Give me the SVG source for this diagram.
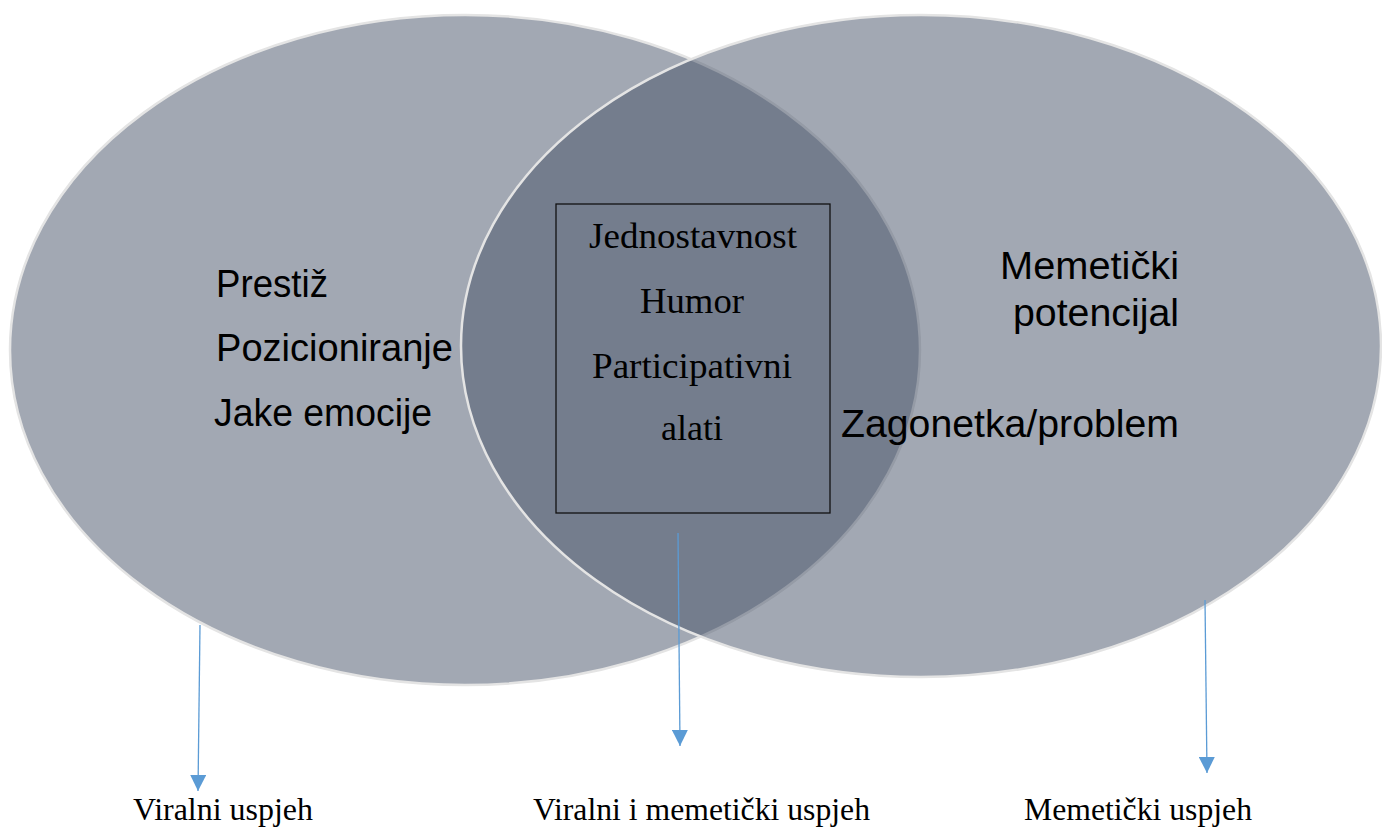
<svg xmlns="http://www.w3.org/2000/svg" width="1382" height="827" viewBox="0 0 1382 827">
<style>
.set{fill:#455167;fill-opacity:0.5;stroke:#e4e4e4;stroke-width:2.5}
.sans{font-family:"Liberation Sans",Arial,sans-serif;font-size:38px;fill:#000}
.serif{font-family:"Liberation Serif","Times New Roman",serif;fill:#000}
.box{fill:none;stroke:#111;stroke-width:1.3}
.conn{stroke:#5b9bd5;stroke-width:1.3;fill:none;marker-end:url(#ah)}
</style>
<defs>
<marker id="ah" markerUnits="userSpaceOnUse" markerWidth="16" markerHeight="16" viewBox="0 0 16 16" refX="16" refY="8" orient="auto">
<path d="M0,0 L16,8 L0,16 Z" fill="#5b9bd5"/>
</marker>
</defs>
<rect width="1382" height="827" fill="#fff"/>
<g id="viral">
<ellipse class="set" cx="465" cy="350" rx="455" ry="335"/>
</g>
<g id="memetic">
<ellipse class="set" cx="921" cy="346" rx="460" ry="331"/>
</g>
<g id="viral-text">
<text class="sans" x="216" y="297" textLength="112" lengthAdjust="spacingAndGlyphs">Prestiž</text>
<text class="sans" x="216" y="361" textLength="237" lengthAdjust="spacingAndGlyphs">Pozicioniranje</text>
<text class="sans" x="214" y="426" textLength="218" lengthAdjust="spacingAndGlyphs">Jake emocije</text>
</g>
<g id="memetic-text">
<text class="sans" x="1179" y="279" text-anchor="end" textLength="179" lengthAdjust="spacingAndGlyphs">Memetički</text>
<text class="sans" x="1179" y="326" text-anchor="end" textLength="166" lengthAdjust="spacingAndGlyphs">potencijal</text>
<text class="sans" x="1179" y="437" text-anchor="end" textLength="338" lengthAdjust="spacingAndGlyphs">Zagonetka/problem</text>
</g>
<g id="shared">
<rect class="box" x="556" y="204" width="274" height="309"/>
<text class="serif" font-size="36" x="693" y="248" text-anchor="middle" textLength="208" lengthAdjust="spacingAndGlyphs">Jednostavnost</text>
<text class="serif" font-size="36" x="692" y="313" text-anchor="middle" textLength="104" lengthAdjust="spacingAndGlyphs">Humor</text>
<text class="serif" font-size="36" x="692" y="378" text-anchor="middle" textLength="200" lengthAdjust="spacingAndGlyphs">Participativni</text>
<text class="serif" font-size="36" x="692" y="440" text-anchor="middle" textLength="62" lengthAdjust="spacingAndGlyphs">alati</text>
</g>
<g id="connectors">
<line class="conn" x1="200" y1="625" x2="198" y2="791"/>
<line class="conn" x1="678" y1="533" x2="680" y2="746"/>
<line class="conn" x1="1205" y1="600" x2="1207" y2="773"/>
</g>
<g id="outcome-viral">
<text class="serif" font-size="32" x="133" y="820" textLength="180" lengthAdjust="spacingAndGlyphs">Viralni uspjeh</text>
</g>
<g id="outcome-both">
<text class="serif" font-size="32" x="533" y="820" textLength="337" lengthAdjust="spacingAndGlyphs">Viralni i memetički uspjeh</text>
</g>
<g id="outcome-memetic">
<text class="serif" font-size="32" x="1024" y="820" textLength="228" lengthAdjust="spacingAndGlyphs">Memetički uspjeh</text>
</g>
</svg>
